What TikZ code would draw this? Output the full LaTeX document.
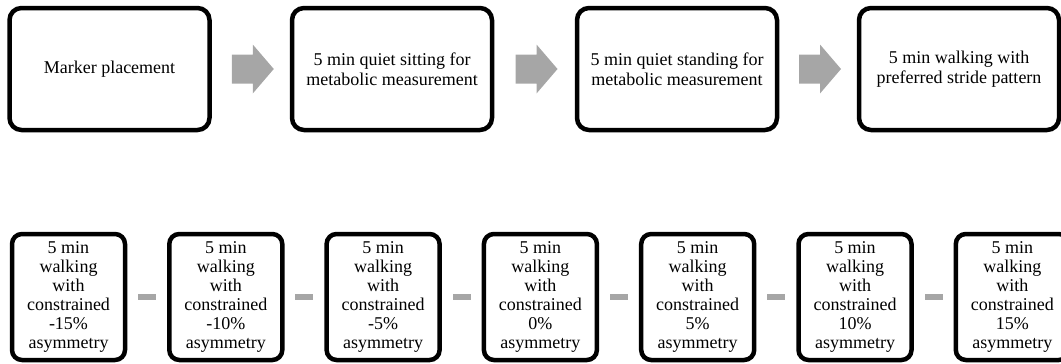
\documentclass[tikz,border=0pt]{standalone}
\usepackage{fontspec}
\setmainfont{Liberation Serif}
\usetikzlibrary{calc}
\definecolor{arrowgray}{RGB}{166,166,166}

\begin{document}
\begin{tikzpicture}
  [x=1pt,y=-1pt,
   every node/.style={draw,line width=4.5pt,rounded corners=12pt,align=center,inner sep=0pt,
     font=\fontsize{18}{19.5}\selectfont},
   stage/.style={minimum width=200pt,minimum height=122pt},
   trial/.style={minimum width=113pt,minimum height=126pt,rounded corners=10pt,
     font=\fontsize{18}{19}\selectfont}]
  \useasboundingbox (0,0) rectangle (1061,364);
  \node[stage] (a) at (109.5,69) {Marker placement};
  \node[stage] (b) at (392,69) {5 min quiet sitting for\\metabolic measurement};
  \node[stage] (c) at (677,69) {5 min quiet standing for\\metabolic measurement};
  \node[stage] (d) at (959,69) {5 min walking with\\preferred stride pattern};
  \node[trial] (s1) at (68.5,297) {5 min\\walking\\with\\constrained\\-15\%\\asymmetry};
  \node[trial] (s2) at (225.8,297) {5 min\\walking\\with\\constrained\\-10\%\\asymmetry};
  \node[trial] (s3) at (383.1,297) {5 min\\walking\\with\\constrained\\-5\%\\asymmetry};
  \node[trial] (s4) at (540.4,297) {5 min\\walking\\with\\constrained\\0\%\\asymmetry};
  \node[trial] (s5) at (697.7,297) {5 min\\walking\\with\\constrained\\5\%\\asymmetry};
  \node[trial] (s6) at (855,297) {5 min\\walking\\with\\constrained\\10\%\\asymmetry};
  \node[trial] (s7) at (1012.3,297) {5 min\\walking\\with\\constrained\\15\%\\asymmetry};
  \foreach \from/\to in {a/b,b/c,c/d}
    \fill[arrowgray,shift={($(\from.east)!.5!(\to.west)+(2,0)$)}]
      (-21,-14.5) -- (0,-14.5) -- (0,-24.5) -- (21,0) -- (0,24.5) -- (0,14.5) -- (-21,14.5) -- cycle;
  \foreach \from/\to in {s1/s2,s2/s3,s3/s4,s4/s5,s5/s6,s6/s7}
    \fill[arrowgray,shift={($(\from.east)!.5!(\to.west)$)}] (-9,-3) rectangle (9,3);
\end{tikzpicture}
\end{document}
